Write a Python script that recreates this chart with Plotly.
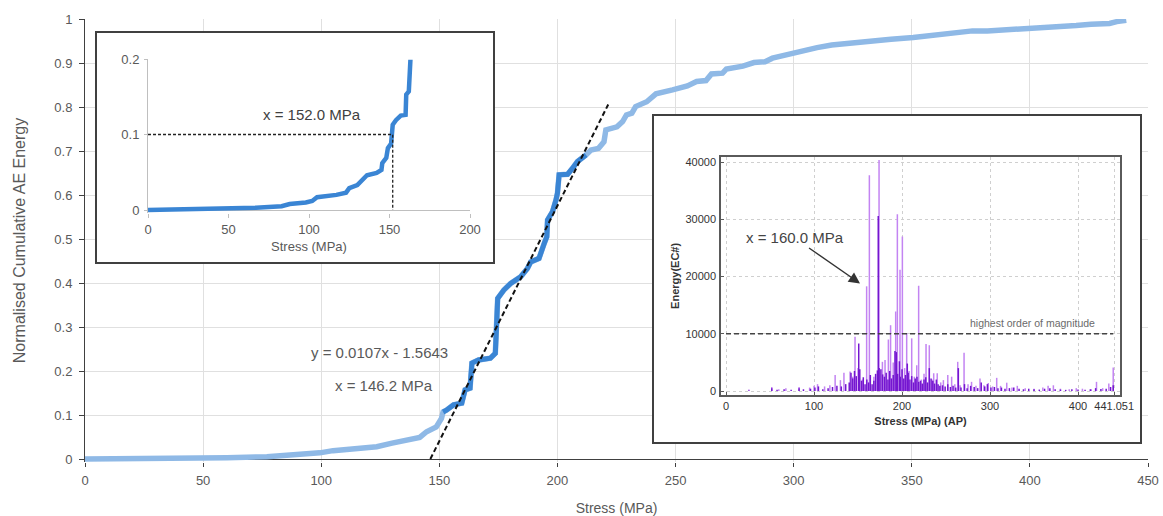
import plotly.graph_objects as go

# ---------------- data ----------------
# main chart: normalised cumulative AE energy vs stress
main_stress = [0, 37, 50, 60, 77, 90, 99.4, 105, 116, 123.5, 130, 134.5, 141.7, 144.6, 148.7,
               150.9, 151.6, 153, 156, 159.5, 160.9, 163, 163.8, 166.6, 171.6, 173.7, 174.2,
               174.7, 177.3, 180.2, 184.4, 187.3, 188.7, 192.2, 194.4, 195.5, 195.8, 197.9,
               199.4, 200, 200.7, 204.3, 206.4, 208.5, 212.1, 214.2, 217.4, 219.7, 220.5,
               225.2, 227.6, 229.2, 231.5, 233.1, 237.8, 241.7, 248.7, 255, 258.9, 262.9,
               265.2, 269.9, 271.5, 278.5, 283.2, 287.9, 291, 297.3, 303.6, 309.9, 316.1,
               322.4, 331.8, 341.2, 350.6, 360, 369.4, 375.7, 382, 389.8, 397.6, 405.5,
               413.3, 419.6, 425.9, 433.7, 436.8, 440.8]
main_energy = [0, 0, 0.002, 0.003, 0.005, 0.009, 0.014, 0.019, 0.023, 0.028, 0.036, 0.042, 0.049,
               0.062, 0.073, 0.092, 0.107, 0.111, 0.123, 0.127, 0.157, 0.161, 0.218, 0.225,
               0.229, 0.240, 0.300, 0.365, 0.384, 0.399, 0.414, 0.433, 0.448, 0.456, 0.490,
               0.505, 0.543, 0.562, 0.589, 0.604, 0.646, 0.647, 0.661, 0.676, 0.691, 0.702,
               0.706, 0.721, 0.748, 0.755, 0.767, 0.782, 0.786, 0.801, 0.812, 0.830, 0.839,
               0.848, 0.858, 0.860, 0.875, 0.877, 0.886, 0.893, 0.901, 0.903, 0.911, 0.920,
               0.928, 0.935, 0.941, 0.945, 0.950, 0.954, 0.958, 0.964, 0.969, 0.973, 0.973,
               0.975, 0.979, 0.981, 0.983, 0.985, 0.988, 0.990, 0.994, 0.997]
fit_range = (151.6, 212.1)          # highlighted (fitted) part of the curve
fit_slope, fit_intercept = 0.0107, -1.5643
fit_x = [146.2, 221.5]
fit_label = "y = 0.0107x - 1.5643"
fit_onset_label = "x = 146.2 MPa"
main_x_ticks = [0, 50, 100, 150, 200, 250, 300, 350, 400, 450]
main_y_ticks = [0, 0.1, 0.2, 0.3, 0.4, 0.5, 0.6, 0.7, 0.8, 0.9, 1]
main_y_labels = ["0", "0.1", "0.2", "0.3", "0.4", "0.5", "0.6", "0.7", "0.8", "0.9", "1"]

# inset 1: zoom of the early part of the curve
ins1_stress = [0, 36, 51, 67, 83, 88, 98, 102, 105, 111, 117, 123, 125, 130, 133, 136, 142, 145,
               145.5, 148, 149, 151, 152, 154, 157, 160, 160.4, 162, 163]
ins1_energy = [0, 0.001, 0.002, 0.003, 0.005, 0.008, 0.010, 0.012, 0.017, 0.018, 0.020, 0.023,
               0.029, 0.033, 0.040, 0.046, 0.049, 0.053, 0.062, 0.069, 0.082, 0.088, 0.113,
               0.119, 0.125, 0.126, 0.153, 0.157, 0.199]
ins1_onset, ins1_level = 152.0, 0.1
ins1_label = "x = 152.0 MPa"
ins1_x_ticks = [0, 50, 100, 150, 200]
ins1_y_ticks = [0, 0.1, 0.2]
ins1_y_labels = ["0", "0.1", "0.2"]

# inset 2: AE energy hits vs stress
light_stress = [26, 52, 60, 68, 83, 95, 100, 104, 112, 118, 124, 130, 134, 141, 144, 146.6, 150,
                155, 159.8, 162.9, 168, 173.9, 177.7, 180.7, 184.5, 187, 190, 192.8, 194.7,
                197.7, 200.4, 203, 205.3, 208, 211, 214, 216.7, 218.9, 222, 225, 227.3, 231,
                234, 236, 240, 244, 247, 252, 256.4, 260, 263.3, 266, 270.5, 275, 279, 284,
                288.6, 293, 298, 303, 307.6, 312, 319, 325, 331, 340, 350, 360, 366, 372, 380,
                390, 398, 405, 415, 421, 428, 435, 440]
light_energy = [250, 700, 300, 500, 700, 600, 900, 1200, 800, 1000, 2800, 1900, 3200, 3400, 2500,
                9500, 4000, 2000, 18300, 37700, 2500, 40400, 5100, 5400, 9000, 11500, 5000, 13900,
                30900, 21200, 27000, 4000, 10100, 3500, 9200, 2500, 4500, 18400, 2000, 3000,
                8200, 8000, 2000, 3100, 3100, 1500, 1900, 2800, 2500, 1200, 5100, 1000, 6700,
                1200, 1600, 900, 2200, 1000, 1400, 800, 2300, 900, 1450, 600, 900, 500, 400,
                600, 900, 1000, 400, 300, 500, 400, 300, 1600, 500, 1300, 4100]
dark_stress = [26, 52, 58, 66, 74, 83, 88, 96, 101, 105, 110, 116, 121, 126, 131, 136, 140, 142,
               144, 146, 148, 150.8, 152, 154, 156, 158, 160, 162, 164, 166, 168, 170, 172, 173,
               174, 176, 178, 180, 182, 184, 186, 188, 190, 192, 193.5, 195, 197, 198, 200,
               202, 204, 206, 207, 209, 211, 213, 215, 217, 219, 221, 223, 225, 227, 229, 231,
               233, 235, 237, 239, 241, 243, 246, 249, 252, 255, 258, 261, 264, 267, 271, 274,
               278, 282, 286, 290, 294, 297, 301, 305, 309, 313, 317, 322, 327, 333, 338, 344,
               350, 356, 362, 368, 374, 380, 386, 393, 400, 408, 414, 420, 426, 432, 437, 440]
dark_energy = [100, 500, 200, 300, 200, 500, 300, 400, 600, 800, 300, 500, 700, 900, 800, 1200,
               1500, 3200, 2200, 3500, 2600, 8300, 3800, 1800, 2400, 1200, 2000, 1500, 2800,
               1200, 1800, 3000, 3600, 30600, 4000, 3800, 2900, 2500, 3200, 2000, 3500, 2200,
               2800, 7000, 6800, 3000, 5200, 2500, 3800, 2200, 2800, 4800, 3200, 2000, 2600,
               1500, 2200, 2500, 1600, 1800, 1300, 2000, 2400, 1500, 4000, 2200, 1800, 1300,
               2000, 1200, 900, 1000, 800, 1200, 700, 900, 600, 4000, 600, 1200, 500, 900, 700,
               500, 1500, 800, 1200, 600, 700, 500, 600, 400, 500, 600, 400, 300, 400, 300,
               250, 400, 500, 300, 250, 200, 300, 250, 200, 300, 500, 350, 400, 700, 1000]
threshold = 10000
threshold_span = [0, 440]
threshold_label = "highest order of magnitude"
arrow_head = (152.3, 18800)
arrow_text_pos = (78, 26750)
arrow_label = "x = 160.0 MPa"
ins2_x_ticks = [0, 100, 200, 300, 400, 441.051]
ins2_x_labels = ["0", "100", "200", "300", "400", "441.051"]
ins2_y_ticks = [0, 10000, 20000, 30000, 40000]
ins2_y_labels = ["0", "10000", "20000", "30000", "40000"]

# ---------------- styling / geometry ----------------
FONT = "Liberation Sans, Arial, sans-serif"
GREY = "#595959"
LIGHT_BLUE = "#8fb9e6"
DARK_BLUE = "#3a85d4"
LIGHT_PURPLE = "#c384f2"
DARK_PURPLE = "#7416d0"

W, H = 1163, 516
L, R, T, B = 85, 15, 19, 54
PW, PH = W - L - R, H - T - B


def px(x):
    return (x - L) / PW


def py(y):
    return (H - B - y) / PH


def stems(xs, es):
    X, Y = [], []
    for x, e in zip(xs, es):
        X += [x, x, None]
        Y += [0, e, None]
    return X, Y


fig = go.Figure()

# main curve
fig.add_trace(go.Scatter(x=main_stress, y=main_energy, mode="lines",
                         line=dict(color=LIGHT_BLUE, width=5.5), xaxis="x", yaxis="y",
                         showlegend=False, hoverinfo="skip"))
hx = [s for s in main_stress if fit_range[0] <= s <= fit_range[1]]
hy = [e for s, e in zip(main_stress, main_energy) if fit_range[0] <= s <= fit_range[1]]
fig.add_trace(go.Scatter(x=hx, y=hy, mode="lines", line=dict(color=DARK_BLUE, width=5),
                         xaxis="x", yaxis="y", showlegend=False, hoverinfo="skip"))
fig.add_trace(go.Scatter(x=fit_x, y=[fit_slope * v + fit_intercept for v in fit_x], mode="lines",
                         line=dict(color="#111111", width=2, dash="5px,3px"),
                         xaxis="x", yaxis="y", showlegend=False, hoverinfo="skip"))

# inset frames (empty subplots giving white background + border)
for ax in ("2", "3"):
    fig.add_trace(go.Scatter(x=[None], y=[None], xaxis="x" + ax, yaxis="y" + ax,
                             showlegend=False, hoverinfo="skip"))

# inset 1
fig.add_trace(go.Scatter(x=ins1_stress, y=ins1_energy, mode="lines",
                         line=dict(color=DARK_BLUE, width=4.5), xaxis="x4", yaxis="y4",
                         showlegend=False, hoverinfo="skip"))
fig.add_trace(go.Scatter(x=[0, ins1_onset, ins1_onset], y=[ins1_level, ins1_level, 0],
                         mode="lines", line=dict(color="#222222", width=1.3, dash="3px,2px"),
                         xaxis="x4", yaxis="y4", showlegend=False, hoverinfo="skip"))

# inset 2
lx, ly = stems(light_stress, light_energy)
dx, dy = stems(dark_stress, dark_energy)
fig.add_trace(go.Scatter(x=lx, y=ly, mode="lines", line=dict(color=LIGHT_PURPLE, width=1.5),
                         xaxis="x5", yaxis="y5", showlegend=False, hoverinfo="skip"))
fig.add_trace(go.Scatter(x=dx, y=dy, mode="lines", line=dict(color=DARK_PURPLE, width=1.5),
                         xaxis="x5", yaxis="y5", showlegend=False, hoverinfo="skip"))
fig.add_trace(go.Scatter(x=threshold_span, y=[threshold, threshold], mode="lines",
                         line=dict(color="#444444", width=1.5, dash="5px,3px"),
                         xaxis="x5", yaxis="y5", showlegend=False, hoverinfo="skip"))

tickfont = dict(family=FONT, size=13, color=GREY)
frame_axis = dict(showline=True, mirror=True, linecolor="#404040", linewidth=1.5,
                  showgrid=False, zeroline=False, showticklabels=False, ticks="",
                  range=[0, 1], fixedrange=True, automargin=False)

fig.update_layout(
    width=W, height=H, margin=dict(l=L, r=R, t=T, b=B, autoexpand=False),
    paper_bgcolor="white", plot_bgcolor="white",
    font=dict(family=FONT, color=GREY),
    xaxis=dict(domain=[0, 1], range=[0, 450], tickvals=main_x_ticks, anchor="y",
               automargin=False, showline=False, zeroline=False,
               ticks="outside", ticklen=4, tickcolor="#404040", showgrid=True,
               gridcolor="#e0e0e0", gridwidth=1, tickfont=tickfont,
               ticklabelstandoff=2,
               title=dict(text="Stress (MPa)", font=dict(family=FONT, size=14, color=GREY),
                          standoff=17)),
    yaxis=dict(domain=[0, 1], range=[-3 / 440, 1], tickvals=main_y_ticks,
               ticktext=main_y_labels, showline=True, linecolor="#404040", linewidth=1,
               automargin=False,
               ticks="outside", ticklen=5, tickcolor="#404040", showgrid=True,
               gridcolor="#e0e0e0", gridwidth=1, zeroline=True, zerolinecolor="#404040",
               zerolinewidth=1, tickfont=tickfont, ticklabelstandoff=4,
               title=dict(text="Normalised Cumulative AE Energy",
                          font=dict(family=FONT, size=16, color=GREY), standoff=24)),
    xaxis2=dict(frame_axis, domain=[px(97), px(493)], anchor="y2"),
    yaxis2=dict(frame_axis, domain=[py(262), py(33)], anchor="x2"),
    xaxis3=dict(frame_axis, domain=[px(654), px(1140)], anchor="y3"),
    yaxis3=dict(frame_axis, domain=[py(442), py(116)], anchor="x3"),
    xaxis4=dict(domain=[px(148), px(470)], range=[0, 200], tickvals=ins1_x_ticks,
                anchor="y4", automargin=False, showline=False, ticks="outside", ticklen=4,
                tickcolor="#bfbfbf", showgrid=False, tickfont=tickfont, ticklabelstandoff=0,
                title=dict(text="Stress (MPa)", font=dict(family=FONT, size=13, color=GREY),
                           standoff=6)),
    yaxis4=dict(domain=[py(213), py(59)], range=[-0.2 * 3 / 151, 0.2], tickvals=ins1_y_ticks,
                ticktext=ins1_y_labels, anchor="x4", automargin=False, showline=True,
                linecolor="#bfbfbf", ticks="outside", ticklen=3, tickcolor="#bfbfbf",
                showgrid=False, zeroline=True, zerolinecolor="#bfbfbf", zerolinewidth=1,
                tickfont=tickfont, ticklabelstandoff=2),
    xaxis5=dict(domain=[px(721), px(1120)], range=[-5.7, 447.7], tickvals=ins2_x_ticks,
                ticktext=ins2_x_labels, anchor="y5", automargin=False, showline=True,
                mirror=True, linecolor="#5a5a5a", linewidth=1.5, ticks="inside", ticklen=3,
                tickcolor="#5a5a5a", showgrid=True, gridcolor="#cfcfcf", griddash="dot",
                zeroline=False, tickfont=dict(family=FONT, size=11, color="#333333"),
                title=dict(text="<b>Stress (MPa) (AP)</b>",
                           font=dict(family=FONT, size=11, color="#333333"), standoff=6)),
    yaxis5=dict(domain=[py(395), py(156.7)], range=[-700, 40960], tickvals=ins2_y_ticks,
                ticktext=ins2_y_labels, anchor="x5", automargin=False, showline=True,
                mirror=True, linecolor="#5a5a5a", linewidth=1.5,
                ticks="inside", ticklen=3, tickcolor="#5a5a5a", showgrid=True,
                gridcolor="#cfcfcf", griddash="dot", zeroline=False,
                tickfont=dict(family=FONT, size=11, color="#333333"), ticklabelstandoff=1,
                title=dict(text="<b>Energy(EC#)</b>",
                           font=dict(family=FONT, size=11, color="#333333"), standoff=4)),
    annotations=[
        dict(x=124.5, y=0.241, xref="x", yref="y", text=fit_label, showarrow=False,
             font=dict(family=FONT, size=15, color=GREY)),
        dict(x=126.6, y=0.166, xref="x", yref="y", text=fit_onset_label, showarrow=False,
             font=dict(family=FONT, size=15, color=GREY)),
        dict(x=102, y=0.126, xref="x4", yref="y4", text=ins1_label, showarrow=False,
             font=dict(family=FONT, size=15, color="#404040")),
        dict(x=347.7, y=11890, xref="x5", yref="y5", text=threshold_label, showarrow=False,
             font=dict(family=FONT, size=10.5, color="#6a6a6a")),
        dict(x=arrow_head[0], y=arrow_head[1], xref="x5", yref="y5",
             ax=arrow_text_pos[0], ay=arrow_text_pos[1], axref="x5", ayref="y5",
             text=arrow_label, showarrow=True, arrowhead=2, arrowsize=1.6, arrowwidth=1.4,
             arrowcolor="#333333", font=dict(family=FONT, size=15, color="#444444")),
    ],
)

fig.write_html("out.html")
